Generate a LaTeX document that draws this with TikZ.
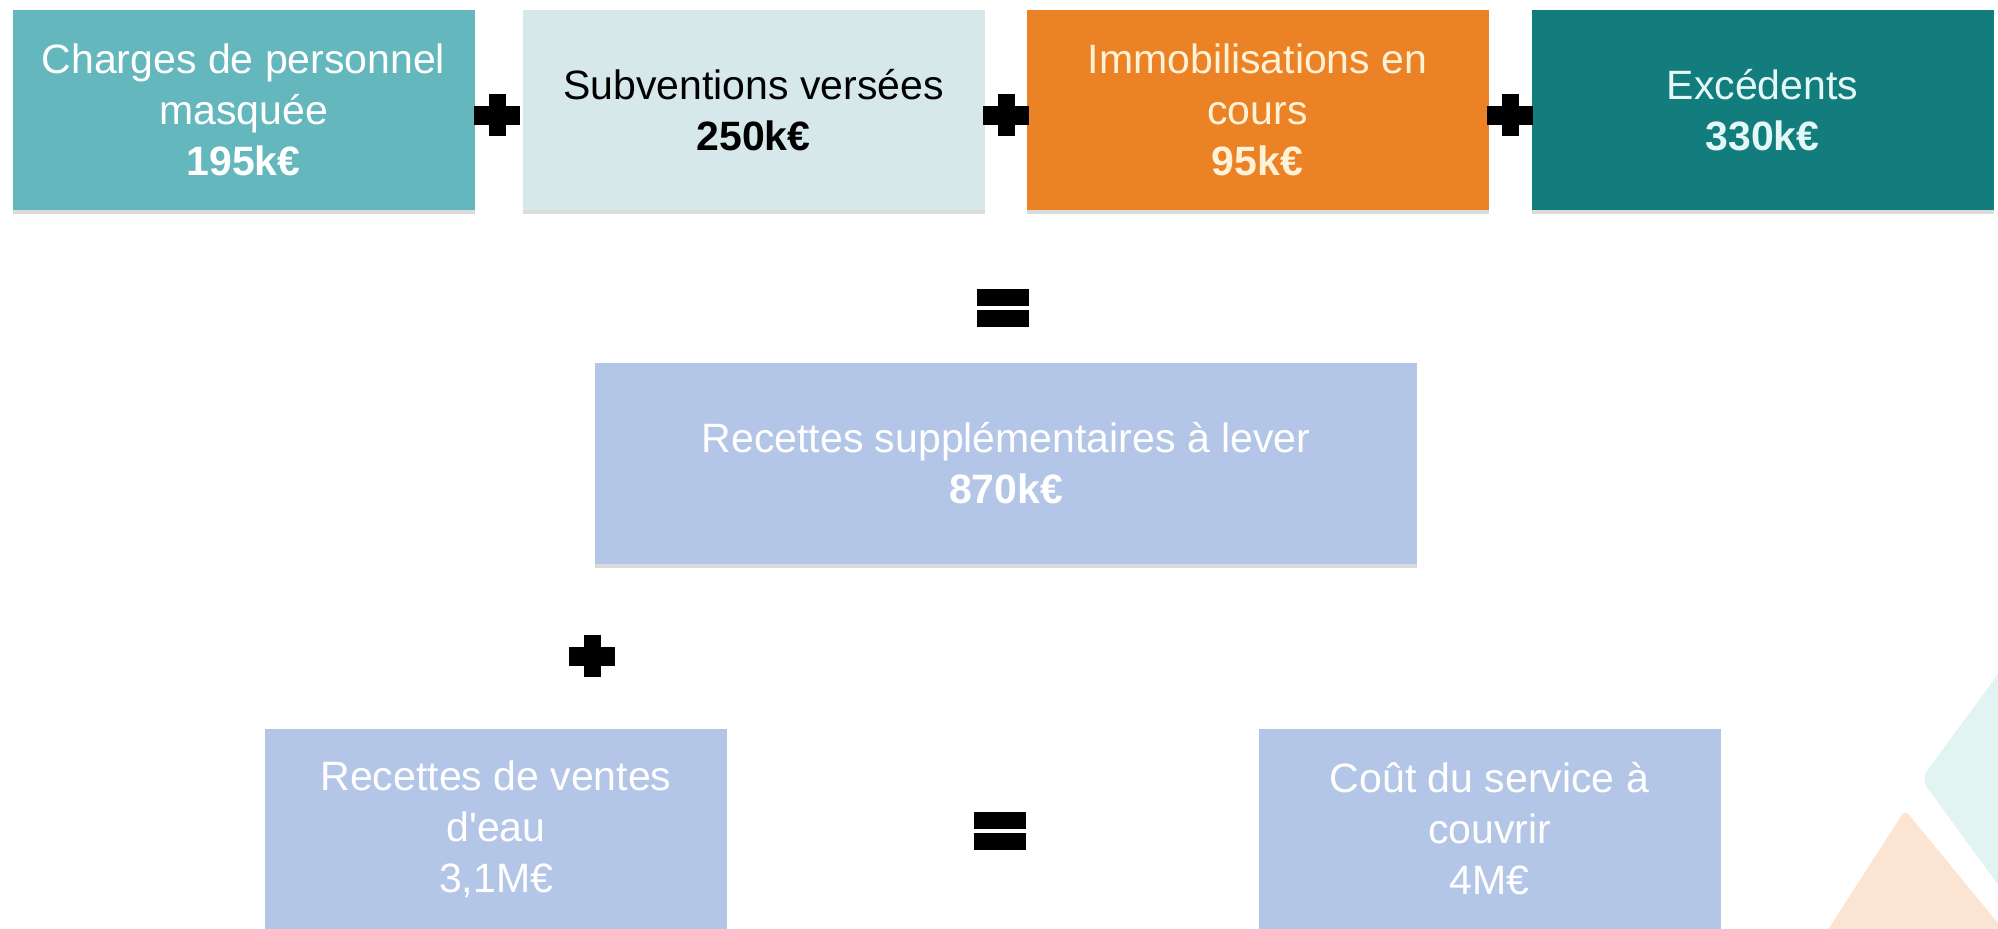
\documentclass[tikz,border=0pt]{standalone}
\usepackage{fontspec}
\setmainfont{Liberation Sans}
\usetikzlibrary{shadows}
\definecolor{cTealL}{HTML}{63B7BD}
\definecolor{cPale}{HTML}{D6E8EA}
\definecolor{cOrange}{HTML}{EC8226}
\definecolor{cTealD}{HTML}{137C7D}
\definecolor{cBlue}{HTML}{B4C6E7}
\definecolor{cCream}{HTML}{FFF2D6}
\definecolor{cIce}{HTML}{E4F8F8}
\definecolor{cDecoT}{HTML}{E1F4F2}
\definecolor{cDecoP}{HTML}{FBE5D2}
\begin{document}
\begin{tikzpicture}[x=1pt,y=-1pt,
  box/.style={rectangle, minimum width=462pt, minimum height=200pt, inner sep=0pt, align=center,
    font=\fontsize{41}{51}\selectfont,
    drop shadow={shadow xshift=0pt, shadow yshift=-4pt, opacity=0.2, fill=black!70}},
  signfill/.style={fill=black},
  pics/plussign/.style={code={
    \fill[signfill] (-23,-9.5) rectangle (23,9.5);
    \fill[signfill] (-8.5,-21) rectangle (8.5,21);}},
  pics/eqsign/.style={code={
    \fill[signfill] (-26,-19) rectangle (26,-2);
    \fill[signfill] (-26,2) rectangle (26,19);}}
]
\useasboundingbox (0,0) rectangle (1998,929);
\fill[white] (0,0) rectangle (1998,929);
\begin{scope}
  \clip (0,0) rectangle (1998,929);
  \fill[cDecoT, rounded corners=10pt] (2060,590) -- (1921,779) -- (2060,970) -- cycle;
  \fill[cDecoP, rounded corners=6pt] (1905,810) -- (1815,950) -- (2020,950) -- cycle;
\end{scope}

\node[box, fill=cTealL, text=white] (charges) at (243.5,110) {Charges de personnel\\masquée\\\textbf{195k€}};
\node[box, fill=cPale, text=black] (subv) at (753.5,110) {Subventions versées\\\textbf{250k€}};
\node[box, fill=cOrange, text=cCream] (immo) at (1257.5,110) {Immobilisations en\\cours\\\textbf{95k€}};
\node[box, fill=cTealD, text=cIce] (exc) at (1762.5,110) {Excédents\\\textbf{330k€}};

\node[box, fill=cBlue, text=white, minimum width=822pt, minimum height=201pt] (recsup) at (1006,463.5) {Recettes supplémentaires à lever\\\textbf{870k€}};

\node[box, fill=cBlue, text=white] (ventes) at (496,829) {Recettes de ventes\\d\textquotesingle eau\\3,1M€};
\node[box, fill=cBlue, text=white] (cout) at (1489.5,829) {Coût du service à\\couvrir\\4M€};

\pic at (497,115) {plussign};
\pic at (1006,115) {plussign};
\pic at (1510,115) {plussign};
\pic at (1003,308) {eqsign};
\pic at (592,656) {plussign};
\pic at (1000,831) {eqsign};
\end{tikzpicture}
\end{document}
